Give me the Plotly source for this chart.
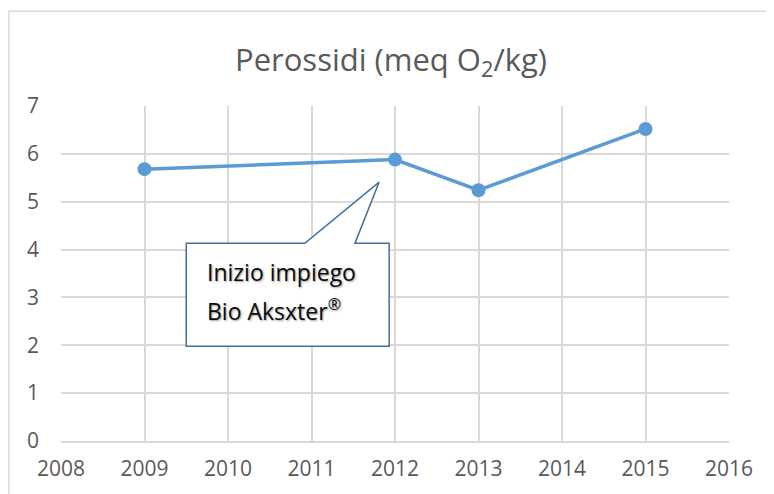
import plotly.graph_objects as go

years = [2009, 2012, 2013, 2015]
perossidi = [5.68, 5.88, 5.24, 6.52]
x_ticks = [2008, 2009, 2010, 2011, 2012, 2013, 2014, 2015, 2016]
y_ticks = [0, 1, 2, 3, 4, 5, 6, 7]
callout_lines = ["Inizio impiego", "Bio Aksxter<sup>®</sup>"]

# callout geometry (data coordinates)
bx0, bx1, by0, by1 = 2009.5, 2011.93, 1.98, 4.13
px0, px1, tipx, tipy = 2010.92, 2011.52, 2011.81, 5.41

fig = go.Figure()
fig.add_trace(go.Scatter(
    x=years, y=perossidi, mode="lines+markers",
    line=dict(color="#5b9bd5", width=3.5),
    marker=dict(color="#5b9bd5", size=14),
    showlegend=False, hoverinfo="x+y"))

path = (f"M {bx0},{by0} L {bx0},{by1} L {px0},{by1} L {tipx},{tipy} "
        f"L {px1},{by1} L {bx1},{by1} L {bx1},{by0} Z")
fig.add_shape(type="path", path=path, xref="x", yref="y",
              line=dict(color="#41719c", width=1.5), fillcolor="white", layer="above")

fig.add_shape(type="rect", xref="paper", yref="paper",
              x0=-0.0778, x1=1.2, y0=-0.3, y1=1.283,
              line=dict(color="#d9d9d9", width=1.5), fillcolor="rgba(0,0,0,0)", layer="below")

line_y = [by1 - 0.6, by1 - 1.4]
for t, yy in zip(callout_lines, line_y):
    fig.add_annotation(x=bx0 + 0.23, y=yy, xref="x", yref="y",
                       text=t, showarrow=False, xanchor="left", yanchor="middle",
                       font=dict(family="Open Sans", size=23, color="#0d0d0d",
                                 shadow="1px 1px 2px #9a9a9a"))

fig.update_layout(
    width=766, height=486,
    margin=dict(l=53, r=45, t=98, b=49),
    paper_bgcolor="white", plot_bgcolor="white",
    title=dict(text="Perossidi (meq O<sub>2</sub>/kg)", x=0.5, xanchor="center",
               y=0.893, yanchor="middle",
               font=dict(family="Open Sans", size=31, color="#595959")),
    font=dict(family="Open Sans", size=21, color="#595959"),
)
fig.update_xaxes(range=[2008, 2016], tickvals=x_ticks, ticktext=[str(v) for v in x_ticks],
                 showgrid=True, gridcolor="#d9d9d9", gridwidth=1.5,
                 zeroline=False, showline=True, linecolor="#d9d9d9", linewidth=1.5,
                 ticks="", ticklabelstandoff=8)
fig.update_yaxes(range=[0, 7], tickvals=y_ticks,
                 showgrid=True, gridcolor="#d9d9d9", gridwidth=1.5,
                 zeroline=False, showline=False, ticks="", ticklabelstandoff=21)

fig.write_html("out.html")
